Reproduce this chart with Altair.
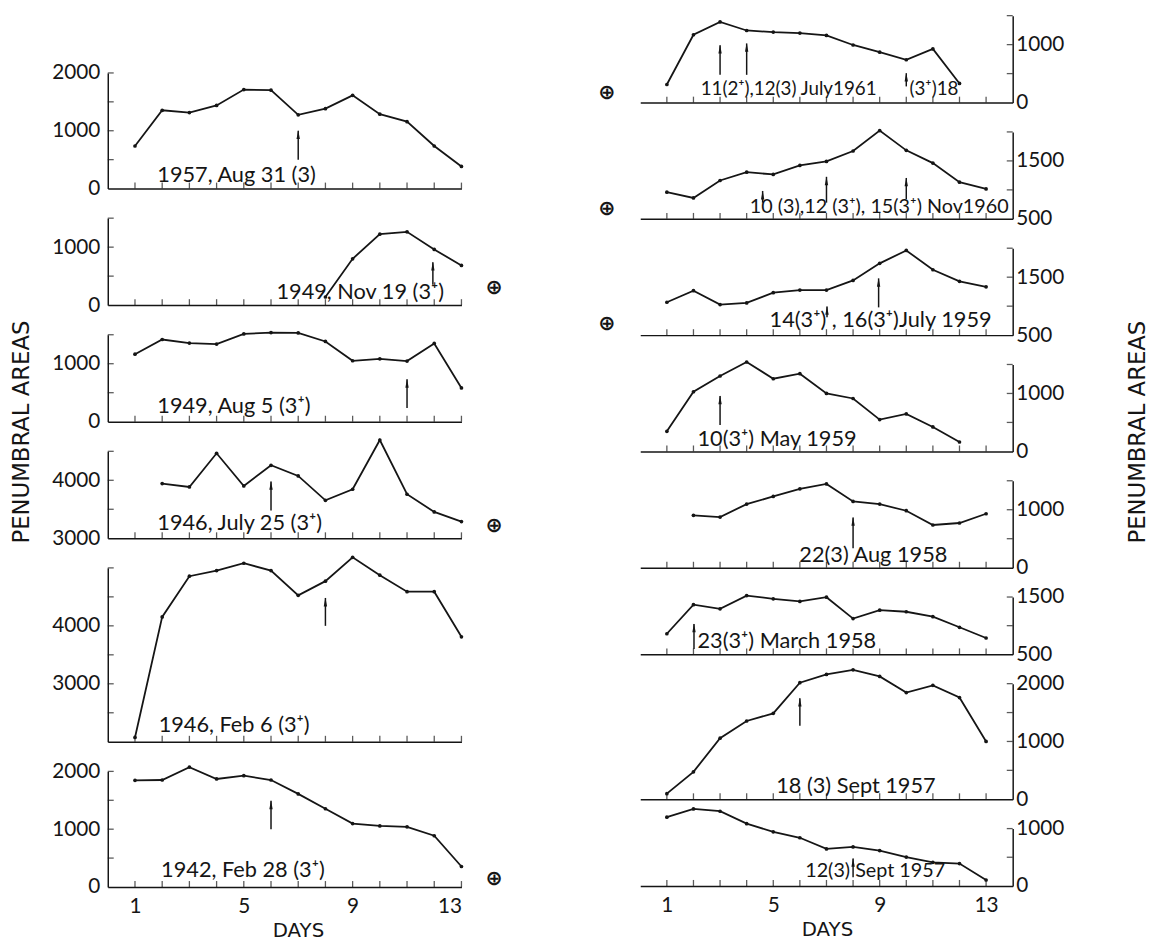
import altair as alt
import pandas as pd

FONT = "Lato"
TFONT = "DejaVu Sans"
INK = "#151515"

DAYS_ALL = list(range(1, 14))

# ---------------- left column ----------------
L1_day = DAYS_ALL
L1_area = [736, 1354, 1315, 1438, 1713, 1702, 1275, 1382, 1612, 1287, 1157, 736, 382]
L2_day = [8, 9, 10, 11, 12, 13]
L2_area = [140, 799, 1224, 1264, 960, 684]
L3_day = DAYS_ALL
L3_area = [1164, 1418, 1356, 1339, 1514, 1537, 1531, 1384, 1051, 1085, 1045, 1350, 582]
L4_day = list(range(2, 14))
L4_area = [3943, 3885, 4466, 3902, 4259, 4075, 3655, 3845, 4695, 3759, 3454, 3287]
L5_day = DAYS_ALL
L5_area = [2074, 4154, 4857, 4954, 5080, 4954, 4526, 4771, 5183, 4874, 4589, 4589, 3811]
L6_day = DAYS_ALL
L6_area = [1846, 1851, 2074, 1869, 1926, 1851, 1611, 1354, 1097, 1057, 1040, 886, 354]

# ---------------- right column ----------------
R1_day = list(range(1, 13))
R1_area = [312, 1170, 1392, 1244, 1216, 1199, 1159, 994, 869, 739, 926, 330]
R2_day = DAYS_ALL
R2_area = [960, 861, 1162, 1306, 1266, 1422, 1491, 1671, 2023, 1682, 1462, 1133, 1017]
R3_day = DAYS_ALL
R3_area = [1067, 1267, 1028, 1056, 1233, 1278, 1278, 1444, 1739, 1961, 1628, 1428, 1333]
R4_day = list(range(1, 13))
R4_area = [347, 1029, 1301, 1543, 1254, 1341, 1000, 913, 549, 647, 422, 162]
R5_day = list(range(2, 14))
R5_area = [903, 874, 1097, 1229, 1360, 1446, 1143, 1097, 983, 737, 771, 931]
R6_day = DAYS_ALL
R6_area = [859, 1367, 1294, 1525, 1469, 1424, 1497, 1124, 1271, 1243, 1158, 972, 785]
R7_day = DAYS_ALL
R7_area = [97, 474, 1057, 1354, 1486, 2017, 2160, 2240, 2126, 1846, 1971, 1760, 1000]
R8_day = DAYS_ALL
R8_area = [1200, 1343, 1303, 1086, 943, 840, 646, 680, 617, 503, 411, 389, 103]

# annotation texts (day, area, text)
L1_text = [(1.82, 115, "1957, Aug 31 (3)")]
L2_text = [(6.2, 100, "1949, Nov 19 (3⁺)")]
L3_text = [(1.82, 150, "1949, Aug 5 (3⁺)")]
L4_text = [(1.82, 3142, "1946, July 25 (3⁺)")]
L5_text = [(1.87, 2171, "1946, Feb 6 (3⁺)")]
L6_text = [(1.96, 176, "1942, Feb 28 (3⁺)")]
R1_text = [(2.27, 137, "11(2⁺),12(3) July1961"), (10.12, 137, "(3⁺)18")]
R2_text = [(4.12, 608, "10 (3),12 (3⁺), 15(3⁺) Nov1960")]
R3_text = [(4.86, 637, "14(3⁺)  , 16(3⁺)July 1959")]
R4_text = [(2.15, 97, "10(3⁺) May 1959")]
R5_text = [(5.98, 91, "22(3) Aug 1958")]
R6_text = [(2.15, 603, "23(3⁺) March 1958")]
R7_text = [(5.11, 114, "18 (3) Sept 1957")]
R8_text = [(6.2, 149, "12(3)  Sept 1957")]

# arrows (day, from area, to area)
L1_arrow = [(7, 500, 1000)]
L2_arrow = [(11.95, 350, 740)]
L3_arrow = [(11, 234, 730)]
L4_arrow = [(6, 3480, 3980)]
L5_arrow = [(8, 4000, 4480)]
L6_arrow = [(6, 1000, 1490)]
R1_arrow = [(3, 479, 991), (4, 479, 1020), (10, 279, 507)]
R2_arrow = [(4.6, 780, 980), (7.0, 780, 1225), (10.0, 840, 1205)]
R3_arrow = [(7.02, 808, 996), (8.96, 979, 1479)]
R4_arrow = [(3, 456, 957)]
R5_arrow = [(8, 336, 866)]
R6_arrow = [(2.02, 591, 1030)]
R7_arrow = [(6, 1271, 1749)]
R8_arrow = [(8, 149, 479)]

# circled-plus markers (day, area)
L2_oplus = [(14.2, 290)]
L4_oplus = [(14.2, 3205)]
L6_oplus = [(14.2, 137)]
R1_oplus = [(-1.25, 170)]
R2_oplus = [(-1.25, 672)]
R3_oplus = [(-1.25, 690)]

PX_PER_UNIT = 0.0585


def panel(day, area, ydom, ylab, side, texts, arrows, oplus=(), bottom=False,
          ytitle=None, tpos=None, fs=22):
    xdom = [0, 13] if side == "left" else [0, 14]
    width = 358 if side == "left" else 377
    height = round((ydom[1] - ydom[0]) * PX_PER_UNIT)
    xs = alt.Scale(domain=xdom, nice=False, zero=False)
    ys = alt.Scale(domain=ydom, nice=False, zero=False)

    if bottom:
        xaxis = alt.Axis(values=[1, 5, 9, 13], format="d", labelFontSize=21,
                         labelPadding=9, ticks=False, grid=False, titleFontSize=20,
                         titleFont=TFONT, titlePadding=4,
                         titleX=(192.5 if side == "left" else 189), titleAlign="center")
        xtitle = "DAYS"
    else:
        xaxis = alt.Axis(values=[0], labels=False, ticks=False, grid=False)
        xtitle = None

    ykw = dict(values=ylab, format="d", orient=side, ticks=False, grid=False,
               labelPadding=(8 if side == "left" else 3), labelFontSize=21,
               labelBaseline="middle")
    if ytitle is not None:
        ykw.update(titleAngle=270, titleX=tpos[0], titleY=tpos[1], titleAlign="center",
                   titleBaseline="middle", titleFontSize=23, titleFont=TFONT)
    yaxis = alt.Axis(**ykw)

    def X(f="day"):
        return alt.X(f + ":Q", scale=xs, axis=xaxis, title=xtitle)

    def Y(f="v"):
        return alt.Y(f + ":Q", scale=ys, axis=yaxis, title=ytitle)

    df = pd.DataFrame({"day": day, "v": area})
    line = alt.Chart(df).mark_line(
        color=INK, strokeWidth=1.8,
        point=alt.OverlayMarkDef(color=INK, filled=True, size=14)
    ).encode(x=X(), y=Y())
    layers = [line]

    # x ticks (pointing up, inside)
    xt = pd.DataFrame({"day": DAYS_ALL, "v": [ydom[0]] * len(DAYS_ALL)})
    layers.append(alt.Chart(xt).mark_tick(orient="vertical", size=6, thickness=1.3,
                                          color=INK, yOffset=-3).encode(x=X(), y=Y()))

    # y ticks (inside)
    yvals = list(range(ydom[0] + 500, ydom[1] + 1, 500))
    xedge = xdom[0] if side == "left" else xdom[1]
    yt = pd.DataFrame({"day": [xedge] * len(yvals), "v": yvals})
    layers.append(alt.Chart(yt).mark_tick(orient="horizontal", size=6, thickness=1.3,
                                          color=INK,
                                          xOffset=(3 if side == "left" else -3)).encode(
        x=X(), y=Y()))

    # arrows
    ad = pd.DataFrame({"day": [a[0] for a in arrows], "v": [a[1] for a in arrows],
                       "v2": [a[2] for a in arrows]})
    layers.append(alt.Chart(ad).mark_rule(color=INK, strokeWidth=1.5).encode(
        x=X(), y=Y(), y2="v2:Q"))
    hd = pd.DataFrame({"day": [a[0] for a in arrows], "v": [a[2] for a in arrows]})
    layers.append(alt.Chart(hd).mark_point(
        shape="M0,-1L0.38,1L-0.38,1Z", filled=True, color=INK, opacity=1, size=80,
        yOffset=4).encode(x=X(), y=Y()))

    # texts
    td = pd.DataFrame({"day": [t[0] for t in texts], "v": [t[1] for t in texts],
                       "t": [t[2] for t in texts]})
    layers.append(alt.Chart(td).mark_text(align="left", baseline="alphabetic", font=FONT,
                                          fontSize=fs, color=INK).encode(
        x=X(), y=Y(), text="t:N"))

    if oplus:
        od = pd.DataFrame({"day": [o[0] for o in oplus], "v": [o[1] for o in oplus],
                           "t": ["⊕"] * len(oplus)})
        layers.append(alt.Chart(od).mark_text(align="center", baseline="middle",
                                              fontSize=21, fontWeight="bold",
                                              font="DejaVu Sans", color=INK).encode(
            x=X(), y=Y(), text="t:N"))

    return alt.layer(*layers).properties(width=width, height=height)


spacer = alt.Chart(pd.DataFrame({"a": [0]})).mark_point(opacity=0).encode(
    x=alt.X("a:Q", axis=None), y=alt.Y("a:Q", axis=None)
).properties(width=358, height=28)

left = alt.vconcat(
    spacer,
    panel(L1_day, L1_area, [0, 2000], [0, 1000, 2000], "left", L1_text, L1_arrow),
    panel(L2_day, L2_area, [0, 1500], [0, 1000], "left", L2_text, L2_arrow, L2_oplus),
    panel(L3_day, L3_area, [0, 1500], [0, 1000], "left", L3_text, L3_arrow,
          ytitle="PENUMBRAL AREAS", tpos=(-87, 98)),
    panel(L4_day, L4_area, [3000, 4500], [3000, 4000], "left", L4_text, L4_arrow, L4_oplus),
    panel(L5_day, L5_area, [2000, 5000], [3000, 4000], "left", L5_text, L5_arrow),
    panel(L6_day, L6_area, [0, 2000], [0, 1000, 2000], "left", L6_text, L6_arrow, L6_oplus,
          bottom=True),
    spacing=30, bounds="flush",
)

right = alt.vconcat(
    panel(R1_day, R1_area, [0, 1500], [0, 1000], "right", R1_text, R1_arrow, R1_oplus, fs=19),
    panel(R2_day, R2_area, [500, 2000], [500, 1500], "right", R2_text, R2_arrow, R2_oplus,
          fs=20),
    panel(R3_day, R3_area, [500, 2000], [500, 1500], "right", R3_text, R3_arrow, R3_oplus),
    panel(R4_day, R4_area, [0, 1500], [0, 1000], "right", R4_text, R4_arrow,
          ytitle="PENUMBRAL AREAS", tpos=(126, 68)),
    panel(R5_day, R5_area, [0, 1500], [0, 1000], "right", R5_text, R5_arrow),
    panel(R6_day, R6_area, [500, 1500], [500, 1500], "right", R6_text, R6_arrow),
    panel(R7_day, R7_area, [0, 2000], [0, 1000, 2000], "right", R7_text, R7_arrow),
    panel(R8_day, R8_area, [0, 1000], [0, 1000], "right", R8_text, R8_arrow, bottom=True,
          fs=20),
    spacing=29.7, bounds="flush",
)

chart = alt.hconcat(left, right, spacing=96).properties(
    padding={"left": 3, "top": 1, "right": 2, "bottom": 0}
).configure_view(strokeWidth=0).configure_axis(
    labelFont=FONT, titleFont=FONT, labelColor=INK, titleColor=INK,
    domainColor=INK, domainWidth=1.5, titleFontWeight="normal"
).configure_point(opacity=1)

chart.save("out.html", embed_options={"renderer": "svg", "actions": False})
